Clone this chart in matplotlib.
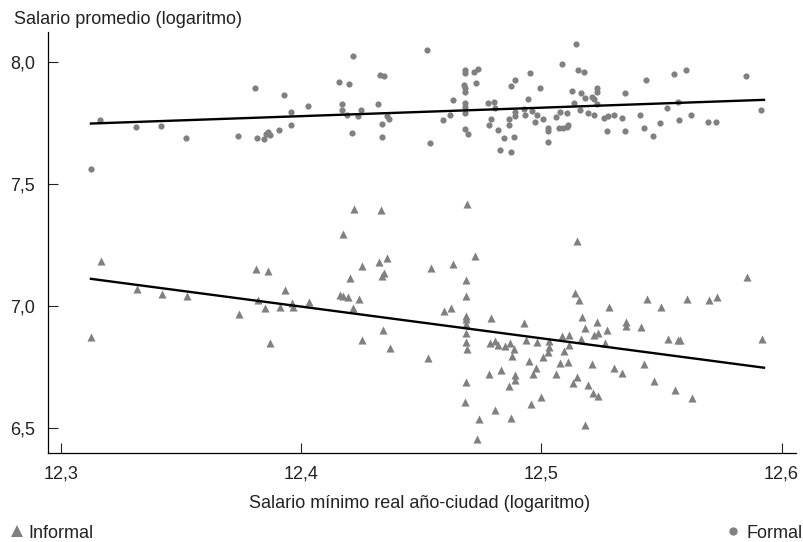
import matplotlib
matplotlib.use("Agg")
import matplotlib.pyplot as plt
from matplotlib.lines import Line2D
from matplotlib.ticker import FuncFormatter

plt.rcParams["font.family"] = ["Liberation Sans", "DejaVu Sans"]

# Formal workers: (log real minimum wage, log mean wage)
formal_x = [
    12.3164, 12.3313, 12.3417, 12.3523, 12.3739, 12.3126, 12.3809, 12.3816,
    12.3846, 12.3853, 12.3861, 12.3870, 12.3908, 12.3929, 12.3958, 12.3958,
    12.4030, 12.4159, 12.4201, 12.4218, 12.4172, 12.4172, 12.4190, 12.4214,
    12.4238, 12.4251, 12.4322, 12.4329, 12.4344, 12.4336, 12.4336, 12.4357,
    12.4367, 12.4524, 12.4538, 12.4591, 12.4620, 12.4631, 12.4684, 12.4684,
    12.4684, 12.4684, 12.4684, 12.4684, 12.4684, 12.4684, 12.4677, 12.4720,
    12.4735, 12.4728, 12.4695, 12.4778, 12.4804, 12.4807, 12.4789, 12.4784,
    12.4820, 12.4846, 12.4829, 12.4874, 12.4885, 12.4866, 12.4866, 12.4891,
    12.4891, 12.4873, 12.4891, 12.4954, 12.4943, 12.4929, 12.4932, 12.4963,
    12.4983, 12.4974, 12.4996, 12.5006, 12.5029, 12.5029, 12.5029, 12.5060,
    12.5078, 12.5085, 12.5074, 12.5092, 12.5108, 12.5108, 12.5112, 12.5128,
    12.5137, 12.5144, 12.5154, 12.5179, 12.5164, 12.5181, 12.5161, 12.5193,
    12.5210, 12.5221, 12.5231, 12.5231, 12.5231, 12.5219, 12.5261, 12.5279,
    12.5303, 12.5272, 12.5335, 12.5350, 12.5348, 12.5411, 12.5436, 12.5426,
    12.5465, 12.5494, 12.5523, 12.5554, 12.5569, 12.5573, 12.5603, 12.5624,
    12.5694, 12.5728, 12.5853, 12.5916,
]
formal_y = [
    7.763, 7.734, 7.738, 7.689, 7.696, 7.562, 7.892, 7.687,
    7.685, 7.706, 7.715, 7.702, 7.723, 7.865, 7.796, 7.741,
    7.819, 7.918, 7.911, 8.026, 7.826, 7.803, 7.783, 7.711,
    7.778, 7.803, 7.826, 7.947, 7.943, 7.748, 7.691, 7.779,
    7.767, 8.048, 7.668, 7.762, 7.783, 7.846, 7.969, 7.956,
    7.892, 7.879, 7.831, 7.817, 7.790, 7.726, 7.907, 7.958,
    7.973, 7.914, 7.707, 7.834, 7.837, 7.812, 7.766, 7.743,
    7.722, 7.687, 7.639, 7.633, 7.692, 7.743, 7.768, 7.779,
    7.794, 7.903, 7.925, 7.956, 7.849, 7.808, 7.783, 7.798,
    7.783, 7.756, 7.894, 7.767, 7.729, 7.716, 7.672, 7.774,
    7.797, 7.991, 7.728, 7.728, 7.792, 7.733, 7.744, 7.881,
    7.834, 8.072, 7.969, 7.961, 7.875, 7.854, 7.804, 7.792,
    7.857, 7.848, 7.893, 7.879, 7.828, 7.781, 7.770, 7.778,
    7.783, 7.716, 7.772, 7.875, 7.716, 7.781, 7.925, 7.730,
    7.698, 7.749, 7.812, 7.952, 7.837, 7.764, 7.967, 7.781,
    7.754, 7.754, 7.941, 7.804,
]

# Informal workers
informal_x = [
    12.3168, 12.3126, 12.3316, 12.3420, 12.3527, 12.3743, 12.3814, 12.3864,
    12.3820, 12.3850, 12.3872, 12.3911, 12.3933, 12.3961, 12.3965, 12.4035,
    12.4162, 12.4175, 12.4194, 12.4174, 12.4220, 12.4333, 12.4205, 12.4241,
    12.4216, 12.4254, 12.4254, 12.4325, 12.4358, 12.4338, 12.4347, 12.4340,
    12.4370, 12.4540, 12.4527, 12.4690, 12.4723, 12.4634, 12.4595, 12.4623,
    12.4687, 12.4687, 12.4687, 12.4687, 12.4687, 12.4687, 12.4687, 12.4687,
    12.4692, 12.4682, 12.4740, 12.4731, 12.4791, 12.4787, 12.4809, 12.4821,
    12.4848, 12.4869, 12.4888, 12.4877, 12.4781, 12.4832, 12.4892, 12.4892,
    12.4866, 12.4806, 12.4875, 12.4929, 12.4935, 12.4983, 12.4948, 12.4978,
    12.4964, 12.5007, 12.5033, 12.5033, 12.5029, 12.4998, 12.4957, 12.5062,
    12.5078, 12.5110, 12.5087, 12.5115, 12.5096, 12.5114, 12.5149, 12.5139,
    12.5157, 12.5168, 12.5182, 12.5165, 12.5147, 12.5131, 12.5196, 12.5212,
    12.5216, 12.5235, 12.5183, 12.5232, 12.5218, 12.5237, 12.5265, 12.5275,
    12.5282, 12.5304, 12.5337, 12.5351, 12.5351, 12.5439, 12.5497, 12.5415,
    12.5429, 12.5468, 12.5529, 12.5570, 12.5578, 12.5558, 12.5628, 12.5608,
    12.5697, 12.5732, 12.5856, 12.5920,
]
informal_y = [
    7.187, 6.873, 7.071, 7.051, 7.041, 6.969, 7.153, 7.145,
    7.026, 6.992, 6.848, 6.995, 7.066, 7.014, 6.998, 7.016,
    7.044, 7.041, 7.038, 7.294, 7.397, 7.392, 7.114, 7.030,
    6.992, 7.166, 6.861, 7.181, 7.199, 7.123, 7.134, 6.901,
    6.830, 7.155, 6.787, 7.417, 7.206, 7.173, 6.981, 6.991,
    7.108, 7.041, 6.959, 6.946, 6.925, 6.891, 6.853, 6.690,
    6.826, 6.608, 6.537, 6.458, 6.952, 6.850, 6.857, 6.841,
    6.837, 6.851, 6.823, 6.796, 6.721, 6.738, 6.720, 6.699,
    6.673, 6.574, 6.540, 6.932, 6.860, 6.854, 6.775, 6.748,
    6.724, 6.790, 6.857, 6.834, 6.812, 6.626, 6.600, 6.724,
    6.769, 6.773, 6.877, 6.881, 6.816, 6.841, 7.266, 7.056,
    7.025, 6.957, 6.912, 6.867, 6.711, 6.687, 6.677, 6.762,
    6.646, 6.632, 6.512, 6.937, 6.880, 6.891, 6.851, 6.901,
    6.995, 6.747, 6.728, 6.935, 6.919, 7.030, 6.998, 6.916,
    6.765, 6.692, 6.864, 6.861, 6.861, 6.655, 6.624, 7.030,
    7.026, 7.037, 7.120, 6.865,
]

# fitted lines (end points)
fit_x = [12.3126, 12.5927]
formal_fit_y = [7.748, 7.845]
informal_fit_y = [7.112, 6.748]

x_ticks = [12.3, 12.4, 12.5, 12.6]
y_ticks = [6.5, 7.0, 7.5, 8.0]

GRAY = "#808080"
INK = "#222222"
FS = 13

fig = plt.figure(figsize=(8.04, 5.42), dpi=100)
ax = fig.add_axes([0.0593, 0.1648, 0.9307, 0.7762])

ax.scatter(formal_x, formal_y, marker="o", s=20, color=GRAY, linewidths=0, zorder=2)
ax.scatter(informal_x, informal_y, marker="^", s=34, color=GRAY, linewidths=0, zorder=2)
ax.plot(fit_x, formal_fit_y, color="black", lw=1.7, zorder=3)
ax.plot(fit_x, informal_fit_y, color="black", lw=1.7, zorder=3)

ax.set_xlim(12.2946, 12.606)
ax.set_ylim(6.4, 8.123)
ax.set_xticks(x_ticks)
ax.set_yticks(y_ticks)
comma = FuncFormatter(lambda v, _: f"{v:.1f}".replace(".", ","))
ax.xaxis.set_major_formatter(comma)
ax.yaxis.set_major_formatter(comma)
ax.tick_params(direction="in", length=7, width=0.8, labelsize=FS, colors=INK)
ax.tick_params(axis="x", pad=9)
ax.tick_params(axis="y", pad=9)
for s in ("top", "right"):
    ax.spines[s].set_visible(False)
for s in ("left", "bottom"):
    ax.spines[s].set_linewidth(0.9)

fig.text(14 / 804, 1 - 20 / 542, "Salario promedio (logaritmo)", fontsize=FS,
         ha="left", va="center", color=INK)
fig.text(420 / 804, 1 - 503 / 542, "Salario mínimo real año-ciudad (logaritmo)",
         fontsize=FS, ha="center", va="center", color=INK)

# legend entries at the two bottom corners
tri = Line2D([], [], marker="^", ls="none", color=GRAY, markersize=8, markeredgewidth=0)
dot = Line2D([], [], marker="o", ls="none", color=GRAY, markersize=6, markeredgewidth=0)
fig.legend([tri], ["Informal"], loc="center left", bbox_to_anchor=(0.003, 1 - 533 / 542),
           frameon=False, fontsize=FS, handlelength=1.0, handletextpad=0.15,
           borderaxespad=0.0, borderpad=0.3, labelcolor=INK)
fig.legend([dot], ["Formal"], loc="center right", bbox_to_anchor=(1.0, 1 - 533 / 542),
           frameon=False, fontsize=FS, handlelength=1.0, handletextpad=0.2,
           borderaxespad=0.0, borderpad=0.1, labelcolor=INK)

fig.savefig("out.png", dpi=100)
